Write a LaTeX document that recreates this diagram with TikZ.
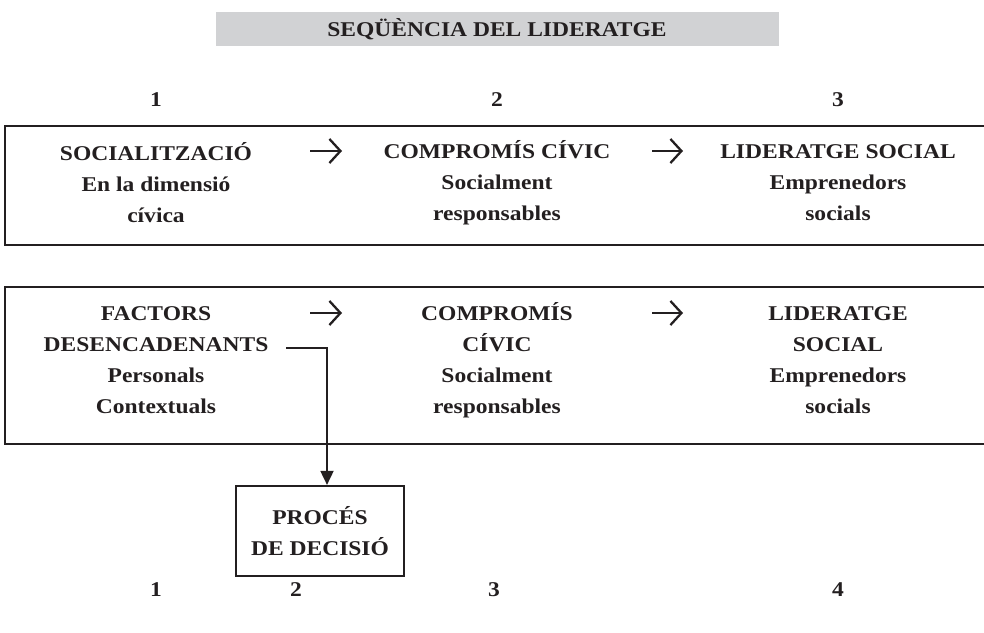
\documentclass[tikz,border=0pt]{standalone}
\usepackage{fontspec}
\setmainfont{Liberation Serif}[FakeStretch=1.12]
\usetikzlibrary{arrows.meta}
\definecolor{titlegray}{HTML}{D1D2D4}
\definecolor{ink}{HTML}{231F20}

\begin{document}
\begin{tikzpicture}[x=1pt,y=-1pt]
\tikzset{txt/.style = {align=center,text=ink,inner sep=0pt,font=\fontsize{21}{31}\selectfont\bfseries}}
\tikzset{frame/.style = {draw=ink,line width=2.2pt}}
\tikzset{seqarrow/.style = {draw=ink,line width=2.3pt,-{Straight Barb[length=11pt,width=24pt,line width=2.3pt]}}}
\tikzset{decarrow/.style = {draw=ink,line width=1.8pt,-{Triangle[length=14pt,width=13pt]}}}
\useasboundingbox (0,0) rectangle (984,632);
% title
\node[fill=titlegray,minimum width=563pt,minimum height=34pt,inner sep=0pt] (titol) at (497,29) {};
\node[txt] at (titol) {SEQÜÈNCIA DEL LIDERATGE};
% numbers above
\node[txt] (n1) at (156,100) {1};
\node[txt] (n2) at (497,100) {2};
\node[txt] (n3) at (838,100) {3};
% first sequence
\draw[frame] (5,126) rectangle (995,245);
\node[txt] (soc) at (156,183) {SOCIALITZACIÓ\\En la dimensió\\cívica};
\node[txt] (civa) at (497,183) {COMPROMÍS CÍVIC\\Socialment\\responsables};
\node[txt] (lida) at (838,183) {LIDERATGE SOCIAL\\Emprenedors\\socials};
\coordinate (a1s) at (310,151);
\coordinate (a1e) at (342,151);
\coordinate (a2s) at (652,151);
\coordinate (a2e) at (683,151);
\draw[seqarrow] (a1s) -- (a1e);
\draw[seqarrow] (a2s) -- (a2e);
% second sequence
\draw[frame] (5,287) rectangle (995,444);
\node[txt] (fact) at (156,360) {FACTORS\\DESENCADENANTS\\Personals\\Contextuals};
\node[txt] (civb) at (497,360) {COMPROMÍS\\CÍVIC\\Socialment\\responsables};
\node[txt] (lidb) at (838,360) {LIDERATGE\\SOCIAL\\Emprenedors\\socials};
\coordinate (b1s) at (310,313);
\coordinate (b1e) at (342,313);
\coordinate (b2s) at (652,313);
\coordinate (b2e) at (683,313);
\draw[seqarrow] (b1s) -- (b1e);
\draw[seqarrow] (b2s) -- (b2e);
% decision
\node[frame,txt,minimum width=168pt,minimum height=90pt,inner sep=0pt] (proc) at (320,531) {PROCÉS\\DE DECISIÓ};
\coordinate (dstart) at (286,348);
\draw[decarrow] (dstart) -| ([xshift=7pt]proc.north);
% numbers below
\node[txt] (m1) at (156,590) {1};
\node[txt] (m2) at (296,590) {2};
\node[txt] (m3) at (494,590) {3};
\node[txt] (m4) at (838,590) {4};
\end{tikzpicture}
\end{document}
